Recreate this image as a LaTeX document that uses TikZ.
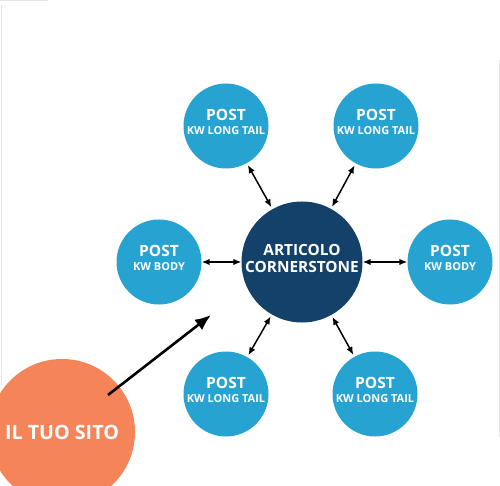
\documentclass[tikz,border=0pt]{standalone}
\usepackage{fontspec}
\setmainfont{Open Sans}
\usetikzlibrary{arrows.meta}
\definecolor{postblue}{HTML}{27A3D1}
\definecolor{coredark}{HTML}{134169}
\definecolor{siteorange}{HTML}{F58459}
\definecolor{edgegray}{HTML}{E6E6E6}
\begin{document}
\begin{tikzpicture}[x=1pt,y=1pt,
  post/.style={circle,fill=postblue,minimum size=85pt,inner sep=0pt,text=white,align=center,font=\bfseries\fontsize{11}{14.5}\selectfont,text depth=8pt},
  core/.style={circle,fill=coredark,minimum size=121pt,inner sep=0pt,text=white,align=center,font=\bfseries\fontsize{15.4}{17.5}\selectfont,text depth=7pt},
  site/.style={circle,fill=siteorange,minimum size=146pt,inner sep=0pt,text=white,font=\bfseries\fontsize{19.7}{22}\selectfont},
  link/.style={{Latex[length=8pt,width=6.5pt]}-{Latex[length=8pt,width=6.5pt]},line width=1.5pt,black},
  bigarrow/.style={-{Latex[length=16pt,width=13pt]},line width=2.6pt,black},
  edge/.style={draw=edgegray,line width=1pt}
]
\useasboundingbox (0,0) rectangle (500,485);
\clip (0,0) rectangle (500,485);
\fill[white] (0,0) rectangle (500,485);
% faint frame lines
\draw[edge] (0,484.5) -- (48,484.5);
\draw[edge] (1,480) -- (1,100);
\draw[edge] (499,425) -- (499,48);
% nodes
\newcommand{\posttext}[1]{{\fontsize{15.5}{14.5}\selectfont POST}\\{\fontsize{11}{14.5}\selectfont #1}}
\node[core] (core) at (302,223) {ARTICOLO\\CORNERSTONE};
\node[post] (tl) at (226,359) {\posttext{KW LONG TAIL}};
\node[post] (tr) at (376,359) {\posttext{KW LONG TAIL}};
\node[post] (l) at (159,223) {\posttext{KW BODY}};
\node[post] (r) at (450,223) {\posttext{KW BODY}};
\node[post] (bl) at (226,91) {\posttext{KW LONG TAIL}};
\node[post] (br) at (375,91) {\posttext{KW LONG TAIL}};
\node[site] (site) at (62,53) {IL TUO SITO};
% links
\draw[link] (core) -- (l);
\draw[link] (core) -- (r);
\draw[link,shorten <=2pt,shorten >=2pt] (core) -- (tl);
\draw[link,shorten <=2pt,shorten >=2pt] (core) -- (tr);
\draw[link,shorten <=2pt,shorten >=2pt] (core) -- (bl);
\draw[link,shorten <=2pt,shorten >=2pt] (core) -- (br);
% big arrow
\coordinate (from) at (108,90);
\coordinate (to) at (211,170);
\draw[bigarrow] (from) -- (to);
\end{tikzpicture}
\end{document}
